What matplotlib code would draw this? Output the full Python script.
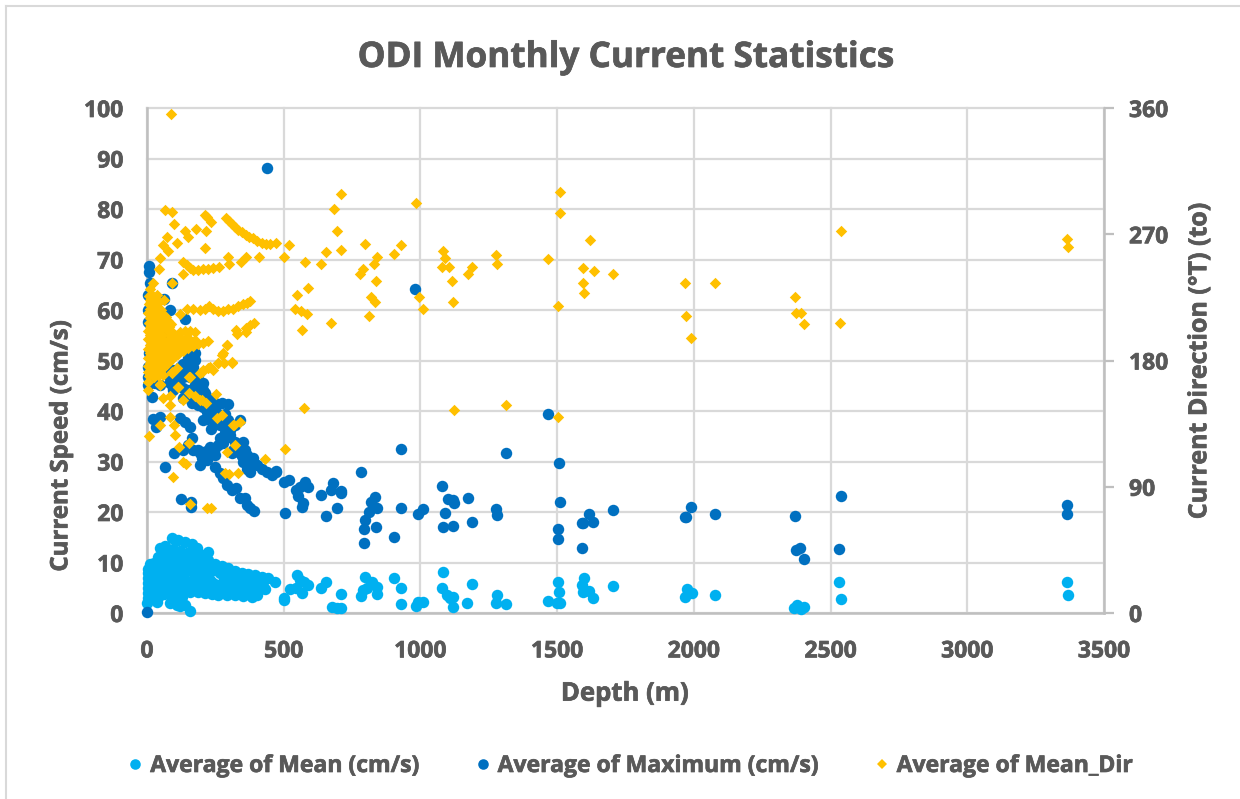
import matplotlib
matplotlib.use('Agg')
import matplotlib.pyplot as plt
import matplotlib.patheffects as pe
from matplotlib.lines import Line2D

plt.rcParams['font.family'] = ['Open Sans', 'DejaVu Sans']

mean_depth = [90, 115, 139, 163, 182, 222, 48, 66, 78, 17, 200, 224, 249, 273, 297, 322, 346, 371, 395, 419, 444, 468,
              230, 279, 304, 328, 358, 383, 413, 432, 157, 188, 212, 237, 261, 291, 322, 352, 383, 401,
              218, 188, 237, 267, 291, 316, 340, 365, 395, 425, 279, 304, 328, 218, 188, 249,
              1, 35, 84, 96, 121, 139, 157, 102, 127, 108,
              55, 70, 95, 120, 145, 165, 40, 60, 85, 110, 135, 160, 180, 10, 25, 45, 65, 90, 115, 140, 165,
              5, 20, 40, 60, 85, 110, 135, 160, 3, 18, 35, 55, 75, 100, 125, 4, 16, 30, 50, 70, 95, 120, 145, 165,
              3, 15, 30, 48, 65, 85, 105, 130, 150, 2, 14, 28, 44, 62, 80, 100, 125, 3, 16, 30, 90, 115, 2, 14, 28,
              200, 225, 250, 275, 300, 325, 350, 375, 400, 150, 170, 240, 255, 300, 325, 350, 405, 190, 180, 200, 215,
              225, 215, 250, 275, 300, 325, 345, 370, 395, 420, 50, 62, 45,
              547, 560, 590, 574, 523, 545, 566, 502, 502, 654, 637, 708, 677, 694, 708, 797, 822, 840, 803, 782, 791,
              840, 903, 928, 928, 983, 992, 1010, 1081, 1078, 1096, 1120, 1108, 1120, 1188, 1171, 1279, 1276, 1312,
              1466, 1503, 1508, 1501, 1510, 1597, 1592, 1593, 1618, 1632, 1703, 1974, 1992, 1967, 2077, 2376, 2366,
              2391, 2403, 2532, 2537, 3365, 3367]
mean_speed = [14.9, 14.5, 14.0, 13.6, 12.9, 12.1, 12.8, 13.3, 12.1, 9.5, 11.4, 10.5, 9.8, 9.4, 8.9, 8.4, 8.0, 7.7, 7.5, 7.2, 6.9, 6.2,
              6.5, 6.2, 6.1, 5.9, 4.9, 4.9, 4.8, 4.8, 4.2, 4.2, 3.9, 3.8, 3.6, 3.6, 3.6, 3.4, 3.2, 3.6,
              7.9, 8.8, 8.5, 7.9, 7.5, 7.2, 6.9, 6.7, 6.5, 6.2, 5.2, 4.9, 4.9, 5.5, 5.9, 5.2,
              1.9, 2.2, 1.9, 2.6, 1.3, 1.6, 0.4, 3.2, 3.2, 1.6,
              12.0, 12.4, 12.6, 12.3, 11.8, 11.7, 11.0, 11.0, 11.1, 11.2, 10.8, 10.6, 10.3, 9.7, 9.9, 9.8, 10.0, 9.7, 9.9, 9.6, 9.4,
              8.8, 8.8, 9.0, 8.7, 8.9, 8.5, 8.2, 8.3, 8.0, 7.8, 7.7, 7.9, 7.7, 7.6, 7.4, 7.0, 6.9, 6.8, 6.7, 6.8, 6.6, 6.5, 6.4, 6.2,
              6.0, 5.8, 5.9, 5.7, 5.5, 5.6, 5.4, 5.3, 5.1, 5.0, 4.8, 4.6, 4.7, 4.5, 4.6, 4.3, 4.4, 4.0, 3.8, 3.6, 3.5, 3.4, 3.0, 3.0, 3.0,
              4.9, 4.6, 4.5, 4.4, 4.3, 4.3, 4.2, 4.1, 4.3, 4.6, 5.0, 6.0, 5.6, 7.2, 6.9, 6.3, 5.5, 7.3, 6.9, 6.6, 7.1,
              9.0, 9.8, 8.6, 8.2, 7.9, 7.4, 7.2, 7.0, 6.8, 6.6, 3.9, 3.7, 3.3,
              7.5, 6.5, 5.5, 6.2, 4.7, 4.9, 4.0, 2.6, 2.9, 6.2, 4.9, 3.8, 1.1, 0.9, 1.0, 7.1, 6.2, 5.1, 4.9, 3.4, 4.6,
              3.7, 6.9, 4.9, 1.8, 1.3, 2.2, 2.2, 8.1, 4.9, 3.6, 3.2, 2.9, 1.1, 5.7, 2.0, 3.6, 2.0, 1.8,
              2.4, 6.2, 4.2, 1.9, 1.9, 7.0, 5.5, 4.1, 4.4, 3.0, 5.3, 4.7, 4.0, 3.2, 3.6, 1.6, 0.9,
              0.7, 1.1, 6.2, 2.7, 6.1, 3.6]

max_depth = [249, 267, 279, 294, 310, 325, 340, 358, 365, 377, 391,
             352, 340, 389, 352, 401, 365, 419, 438, 456, 472, 377,
             169, 188, 206, 224, 237, 249, 200, 218, 194, 230, 151, 100, 133, 163, 66, 123, 161, 162, 234, 33, 48, 23,
             121, 139, 157, 17, 206, 218, 237, 297, 273, 249, 224, 206, 188, 163, 261, 279, 297, 340, 322, 304, 285,
             297, 273, 261, 322, 310, 340,
             96, 115, 133, 151, 176, 194, 212, 224, 206, 188, 249, 230, 218, 267, 285, 249, 267, 285, 304, 267, 249,
             279, 316, 358, 377, 365, 395, 346, 377, 194, 212, 224,
             121, 145, 169, 182, 133, 108, 176, 151, 127, 102,
             471, 456, 502, 520, 578, 545, 560, 551, 588, 572, 566, 637, 681, 673, 711, 708, 694, 654, 504, 783, 929,
             834, 818, 842, 813, 797, 794, 836, 794, 903, 928, 992, 1008, 1078, 1102, 1120, 1123, 1090, 1081, 1120,
             1173, 1187, 980, 439, 1466, 1312, 1508, 1510, 1276, 1279, 1618, 1703, 1632, 1596, 1590, 1503, 1502, 1592,
             1991, 1971, 1967, 2077, 2369, 2388, 2373, 2403, 2537, 2532, 3365, 3366,
             9, 9, 11, 90, 5, 62, 2, 84, 139, 2, 66, 59, 157, 176, 157, 133, 188, 163, 200, 96, 121, 7, 5, 2, 29, 29,
             84, 78, 96, 145, 2, 157, 109, 206, 169, 84, 48, 133, 0]
max_speed = [29.0, 27.7, 26.8, 25.3, 24.4, 24.7, 22.7, 22.7, 21.4, 20.7, 20.2,
             33.9, 31.6, 30.6, 29.9, 29.3, 28.6, 28.6, 27.9, 27.3, 28.1, 27.9,
             32.3, 32.3, 31.9, 32.3, 31.6, 31.3, 30.6, 30.3, 29.3, 32.9, 33.3, 31.6, 32.3, 34.6, 29.0, 22.6, 20.9, 22.0, 36.4, 36.9, 38.9, 38.4,
             38.6, 37.9, 36.9, 42.8, 38.2, 39.9, 41.2, 41.3, 41.5, 41.5, 42.5, 44.2, 44.8, 41.5, 39.5, 38.2, 38.2, 38.2, 37.2, 36.2, 35.6,
             34.9, 34.3, 33.3, 33.9, 31.6, 32.3,
             44.1, 45.5, 44.5, 44.1, 45.1, 43.8, 43.5, 41.5, 40.8, 41.2, 40.5, 39.2, 38.5, 39.2, 39.5, 38.2, 37.2, 36.5, 35.2, 34.6, 32.6,
             33.6, 32.3, 32.3, 30.3, 31.3, 29.6, 31.0, 29.3, 31.6, 31.3, 30.8,
             48.8, 49.4, 48.8, 46.8, 46.8, 45.8, 50.1, 50.4, 48.1, 47.1,
             28.0, 27.5, 25.9, 26.3, 26.0, 24.4, 24.9, 23.2, 25.0, 21.7, 21.0, 23.3, 25.7, 24.4, 23.7, 24.2, 20.7, 19.3, 19.9, 28.0, 32.4,
             23.0, 22.0, 20.7, 20.0, 18.4, 16.6, 17.0, 13.9, 15.0, 20.7, 19.6, 20.5, 25.2, 22.6, 22.4, 21.7, 19.9, 17.0, 17.2,
             22.7, 18.1, 64.2, 88.1, 39.5, 31.6, 29.8, 21.9, 20.5, 19.5, 19.6, 20.4, 18.1, 17.8, 17.9, 16.6, 14.6, 12.9,
             21.0, 19.0, 19.1, 19.6, 19.2, 12.9, 12.5, 10.6, 23.2, 12.7, 21.4, 19.6,
             68.7, 67.6, 65.3, 65.3, 63.0, 62.2, 60.0, 60.0, 58.2, 57.7, 54.0, 55.4, 53.7, 51.4, 50.7, 49.4, 47.1, 48.7, 45.1, 48.1, 46.7, 51.4, 48.8, 46.8, 48.7, 45.5,
             45.5, 47.1, 44.6, 47.8, 45.1, 46.7, 47.1, 45.5, 43.5, 45.7, 45.1, 42.5, 0.2]

dir_depth = [3365, 3367, 2538, 2533, 2370, 2375, 2391, 2403, 2078, 1967, 1972, 1991, 1704, 1619, 1634, 1593, 1598, 1593,
             1509, 1512, 1502, 1503, 1468, 1277, 1280, 1312, 1119, 1115, 1188, 1174, 1082, 1090, 1079, 1104, 984, 995, 1009,
             929, 903, 841, 830, 819, 838, 834, 812, 797, 790, 779, 709, 695, 684, 710,
             88, 66, 91, 99, 73, 59, 77, 48, 44, 132, 139, 110, 179, 150, 216, 212, 212, 219, 234,
             296, 300, 344, 362, 410, 501, 519, 578, 636, 655,
             290, 300, 310, 322, 334, 346, 361, 373, 389, 403, 419, 434, 450, 471,
             133, 145, 157, 169, 188, 206, 224, 242, 264,
             147, 169, 194, 212, 228, 242, 261, 279, 297, 316, 334, 352, 367, 377,
             548, 589, 541, 563, 585, 567, 673, 391, 377, 362, 362, 325, 329, 293, 278,
             260, 282, 311, 241, 223, 201, 432, 505, 574, 1123, 322, 293, 154, 117, 340, 318, 132, 143, 95, 157, 219, 234,
             7, 48, 84, 99, 102, 333, 285, 300,
             113, 84, 84, 59, 48, 4, 154, 154, 132, 176, 201, 216, 252, 256, 274, 91, 59, 110, 194, 315,
             176, 157, 139, 121, 102, 84, 72, 224, 206, 188, 169, 151, 133, 114, 96, 78, 176, 157, 133, 291, 273, 310, 261,
             230, 206, 194, 90, 157, 114, 48, 5, 23, 11, 90, 17, 35, 62, 11, 121,
             8, 20, 33, 6, 20, 35, 50, 4, 16, 30, 46, 60, 75, 88, 6, 18, 32, 48, 62, 78, 90, 4, 14, 28, 42, 55,
             4, 16, 30, 44, 58, 74, 90, 3, 18, 32, 46, 60, 76, 5, 20, 36, 50, 64, 4, 18, 34, 48, 8, 26, 40, 4,
             12, 26, 42, 12, 26, 40, 54, 68, 10, 24, 38, 52, 68, 82, 10, 24, 36, 52, 84, 10, 22, 36, 50, 62, 80, 96,
             10, 24, 38, 52, 68, 84, 10, 26, 42, 56, 72, 12, 28, 42, 58, 12, 28, 44, 110, 125, 140, 110, 125, 145]
dir_angle = [266.6, 261, 272, 207, 225.5, 214, 214, 206, 235.5, 235, 212, 196, 242, 266, 244, 246, 228, 235,
             300, 285, 219, 140, 252, 255, 249, 148, 222, 237, 247, 242, 258, 253, 247, 247, 292, 225, 217,
             262, 256, 254, 249, 225, 237, 222, 212, 263, 245, 242, 259, 272, 288, 299,
             356, 287, 286, 277, 268, 262, 258, 253, 245, 242, 272, 264, 274, 268, 272, 260, 284, 282, 279,
             254, 249, 250, 254, 254, 254, 262, 250, 249, 257,
             281.6, 279.5, 277, 275, 273, 271.6, 269.7, 268, 267, 265.4, 264, 263, 263, 263.6,
             250.5, 248, 245.7, 244.5, 244.5, 245, 245, 245.7, 247,
             216.5, 216.5, 216, 217, 219, 216.5, 215, 215, 216.5, 217, 218.5, 220, 221, 222.6,
             227, 232, 217, 215, 213, 202, 207, 207, 205, 203, 200, 202, 199, 191, 185,
             178, 178, 178, 173, 175, 172, 110, 117, 146, 145, 120, 115, 121, 118, 136, 134, 108, 106, 97, 78, 75, 75,
             126, 134, 140, 134, 127, 100, 100, 99,
             161, 155, 148, 153, 163, 159, 168, 157, 152, 155, 152, 150, 156, 139, 141, 171, 170, 175, 152, 134,
             200.6, 201, 201, 200.6, 198, 196, 193, 194, 192.7, 192, 190, 188.7, 187, 184.6, 181.6, 178, 194.6, 194.6, 193.4, 191, 184, 179, 178,
             175.6, 173, 171, 172, 168.5, 161, 162.5, 172, 235.5, 231, 235, 227, 227, 223, 221, 213,
             226, 225, 224, 220, 219, 218, 216, 214, 213, 214, 212, 210, 208, 206, 207, 206, 208, 205, 204, 201, 200, 201, 200, 201, 199, 198,
             195, 194, 195, 193, 190, 189, 187, 188, 187, 188, 186, 184, 183, 182, 181, 182, 179, 178, 176, 175, 176, 174, 169, 168, 170, 165,
             223, 221, 221, 217, 216, 215, 213, 211, 210, 209, 210, 208, 206, 204, 204, 203, 204, 202, 198, 198, 197, 197, 196, 193, 192, 191,
             191, 190, 191, 189, 187, 185, 185, 184, 184, 181, 180, 178, 178, 177, 175, 172, 172, 172, 190, 190, 192, 195, 196, 196]

x_ticks = [0, 500, 1000, 1500, 2000, 2500, 3000, 3500]
speed_ticks = [0, 10, 20, 30, 40, 50, 60, 70, 80, 90, 100]
angle_ticks = [0, 90, 180, 270, 360]

text_color = '#595959'
grid_color = '#D9D9D9'
axis_color = '#BFBFBF'
light_blue = '#00B0F0'
dark_blue = '#0070C0'
yellow = '#FFC000'

W, H = 1240, 799
fig = plt.figure(figsize=(W / 100, H / 100), dpi=100)
# the chart frame only shows on its top and left sides, the rest is cropped
fig.add_artist(Line2D([5.5 / W, 5.5 / W], [0, 1 - 5.5 / H], color=grid_color, linewidth=1.5))
fig.add_artist(Line2D([5.5 / W, 1], [1 - 5.5 / H, 1 - 5.5 / H], color=grid_color, linewidth=1.5))

ax = fig.add_axes([147 / W, 1 - 613 / H, 957 / W, 505 / H])
ax2 = ax.twinx()
ax2.set_position(ax.get_position())

ax.scatter(mean_depth, mean_speed, s=68, color=light_blue, linewidths=0, clip_on=False, zorder=3)
ax.scatter(max_depth, max_speed, s=68, color=dark_blue, linewidths=0, clip_on=False, zorder=4)
ax2.scatter(dir_depth, dir_angle, s=34, marker='D', color=yellow, linewidths=0, clip_on=False, zorder=5)

ax.set_xlim(0, 3500)
ax.set_ylim(0, 100)
ax2.set_ylim(0, 360)
ax.set_xticks(x_ticks)
ax.set_yticks(speed_ticks)
ax2.set_yticks(angle_ticks)

ax.grid(True, color=grid_color, linewidth=1.6)
for line in ax.get_xgridlines() + ax.get_ygridlines():
    line.set_clip_on(False)
ax.set_axisbelow(True)

for s in ['top', 'right']:
    ax.spines[s].set_visible(False)
for s in ['top', 'left', 'bottom']:
    ax2.spines[s].set_visible(False)
ax.spines['left'].set_color(axis_color)
ax.spines['bottom'].set_color(axis_color)
ax2.spines['right'].set_color(axis_color)
ax.spines['left'].set_linewidth(1.8)
ax.spines['bottom'].set_linewidth(1.8)
ax2.spines['right'].set_linewidth(1.8)

ax.tick_params(axis='both', length=0, labelsize=16.5, labelcolor=text_color, pad=17)
ax.tick_params(axis='x', pad=19)
ax2.tick_params(axis='y', length=7, width=1.6, color=axis_color, labelsize=16.5, labelcolor=text_color, pad=11)

ax.set_xlabel('Depth (m)', fontsize=18.5, fontweight='bold', color=text_color)
ax.xaxis.set_label_coords(0.4995, -0.132)
ax.set_ylabel('Current Speed (cm/s)', fontsize=17.3, fontweight='bold', color=text_color)
ax.yaxis.set_label_coords(-0.077, 0.331)
ax2.set_ylabel('Current Direction (°T) (to)', fontsize=18, fontweight='bold', color=text_color)
ax2.yaxis.set_label_coords(1.087, 0.5)

title = fig.text(626 / W, 1 - 58 / H, 'ODI Monthly Current Statistics', ha='center', va='center',
                 fontsize=25.3, fontweight='bold', color=text_color)

handles = [
    Line2D([], [], linestyle='', marker='o', markersize=7.6, color=light_blue, markeredgewidth=0, label='Average of Mean (cm/s)'),
    Line2D([], [], linestyle='', marker='o', markersize=7.6, color=dark_blue, markeredgewidth=0, label='Average of Maximum (cm/s)'),
    Line2D([], [], linestyle='', marker='D', markersize=5.4, color=yellow, markeredgewidth=0, label='Average of Mean_Dir'),
]
leg = fig.legend(handles=handles, loc='center', bbox_to_anchor=(628 / W, 1 - 766 / H), ncol=3, frameon=False,
                 fontsize=16.55, handletextpad=0.1, columnspacing=2.2, handlelength=1.1)

# a thin outline so the bold reads as heavy as the original font
bold_text = ax.get_xticklabels() + ax.get_yticklabels() + ax2.get_yticklabels() + leg.get_texts()
bold_text += [ax.xaxis.label, ax.yaxis.label, ax2.yaxis.label, title]
for t in bold_text:
    t.set_fontweight('bold')
    t.set_color(text_color)
    t.set_path_effects([pe.withStroke(linewidth=0.5, foreground=text_color)])

fig.savefig('out.png', dpi=100)
